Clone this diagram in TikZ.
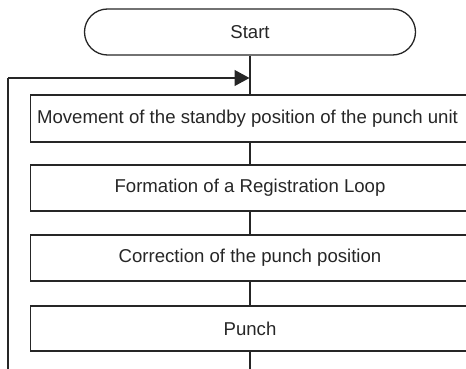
\documentclass[tikz,border=0pt]{standalone}
\usepackage{fontspec}
\setmainfont{Liberation Sans}
\usetikzlibrary{arrows.meta}
\begin{document}
\begin{tikzpicture}[x=1pt,y=-1pt,
  line width=1.3pt, draw=black!85,
  every node/.style={font=\fontsize{18.6}{21}\selectfont, text=black!85},
  term/.style={draw, rectangle, rounded corners=23pt, minimum width=331pt, minimum height=46pt, inner sep=0pt},
  stepbox/.style={draw, rectangle, minimum width=439pt, inner sep=0pt},
  conn/.style={line width=1.3pt},
  arr/.style={line width=1.3pt, -{Triangle[length=15pt,width=16pt]}}]
\clip (0,0) rectangle (466,369);
\node[term] (start) at (250,32) {Start};
\node[stepbox, minimum height=47pt] (b1) at (250,118.5) {\kern-5pt Movement of the standby position of the punch unit};
\node[stepbox, minimum height=46pt] (b2) at (250,188) {Formation of a Registration Loop};
\node[stepbox, minimum height=46pt] (b3) at (250,258) {Correction of the punch position};
\node[stepbox, minimum height=45pt] (b4) at (250,328.5) {Punch};
\coordinate (bot) at (250,372);
\coordinate (lb) at (8,372);
\coordinate (lt) at (8,78);
\coordinate (ah) at (249.5,78);
\draw[conn] (start.south) -- (b1.north);
\draw[conn] (b1.south) -- (b2.north);
\draw[conn] (b2.south) -- (b3.north);
\draw[conn] (b3.south) -- (b4.north);
\draw[conn] (b4.south) -- (bot);
\draw[conn] (lb) -- (lt);
\draw[arr] (lt) -- (ah);
\end{tikzpicture}
\end{document}
